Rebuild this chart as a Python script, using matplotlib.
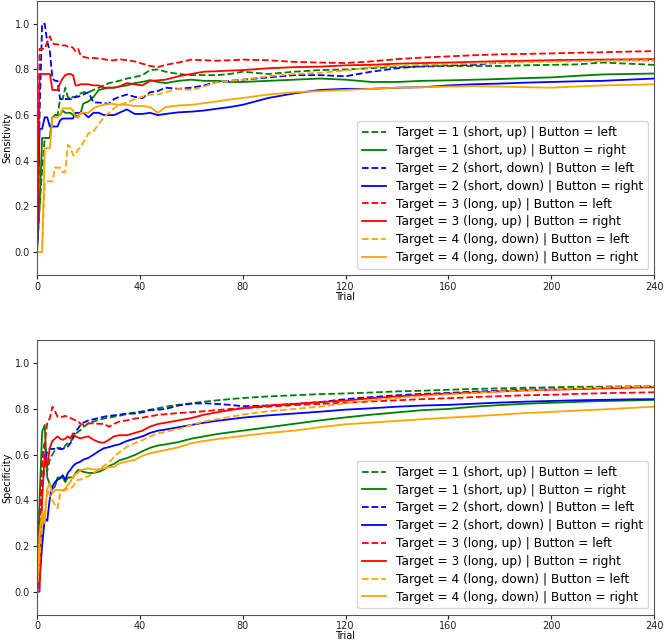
import matplotlib
matplotlib.use("Agg")
import matplotlib.pyplot as plt

trials = [0, 1, 2, 3, 4, 5, 6, 7, 8, 9, 10, 11, 12, 13, 14, 15, 16, 17, 18,
          20, 22, 24, 26, 28, 30, 32, 35, 38, 41, 44, 47, 50, 55, 60, 65, 70,
          75, 80, 90, 100, 110, 120, 130, 140, 150, 160, 170, 180, 190, 200,
          210, 220, 230, 240]

labels = ["Target = 1 (short, up) | Button = left",
          "Target = 1 (short, up) | Button = right",
          "Target = 2 (short, down) | Button = left",
          "Target = 2 (short, down) | Button = right",
          "Target = 3 (long, up) | Button = left",
          "Target = 3 (long, up) | Button = right",
          "Target = 4 (long, down) | Button = left",
          "Target = 4 (long, down) | Button = right"]
colors = ["green", "green", "blue", "blue", "red", "red", "orange", "orange"]
styles = ["--", "-", "--", "-", "--", "-", "--", "-"]

# sensitivity
sens_t1_left = [0, 0.2, 0.36, 0.5, 0.5, 0.5, 0.59, 0.6, 0.6, 0.67, 0.67, 0.72, 0.68, 0.67, 0.68, 0.68, 0.69, 0.695, 0.70,
                0.70, 0.71, 0.72, 0.73, 0.74, 0.745, 0.75, 0.76, 0.767, 0.775, 0.797, 0.80, 0.79, 0.78, 0.775, 0.775, 0.775,
                0.78, 0.79, 0.78, 0.79, 0.797, 0.80, 0.805, 0.81, 0.812, 0.815, 0.815, 0.815, 0.818, 0.82,
                0.822, 0.83, 0.825, 0.82]
sens_t1_right = [0, 0.2, 0.5, 0.5, 0.5, 0.5, 0.59, 0.6, 0.6, 0.6, 0.62, 0.61, 0.61, 0.61, 0.60, 0.60, 0.59, 0.61, 0.65,
                 0.66, 0.68, 0.71, 0.715, 0.72, 0.72, 0.725, 0.73, 0.74, 0.745, 0.753, 0.745, 0.74, 0.75, 0.755, 0.75, 0.75,
                 0.745, 0.745, 0.75, 0.755, 0.76, 0.755, 0.745, 0.745, 0.75, 0.752, 0.755, 0.758, 0.762, 0.765,
                 0.772, 0.778, 0.78, 0.782]
sens_t2_left = [0, 0.6, 1.0, 1.0, 0.92, 0.88, 0.76, 0.75, 0.75, 0.67, 0.67, 0.67, 0.67, 0.67, 0.67, 0.68, 0.68, 0.685, 0.69,
                0.70, 0.655, 0.655, 0.652, 0.65, 0.67, 0.68, 0.69, 0.68, 0.674, 0.70, 0.705, 0.72, 0.715, 0.72, 0.73, 0.745,
                0.75, 0.755, 0.765, 0.775, 0.775, 0.77, 0.79, 0.805, 0.815, 0.818, 0.82, 0.83, 0.835, 0.838,
                0.84, 0.84, 0.84, 0.84]
sens_t2_right = [0, 0.54, 0.54, 0.59, 0.59, 0.55, 0.55, 0.55, 0.55, 0.577, 0.585, 0.585, 0.585, 0.585, 0.585, 0.61, 0.61, 0.61, 0.61,
                 0.59, 0.61, 0.61, 0.60, 0.60, 0.60, 0.61, 0.625, 0.605, 0.605, 0.61, 0.60, 0.605, 0.612, 0.615, 0.62, 0.628,
                 0.635, 0.645, 0.675, 0.695, 0.71, 0.715, 0.715, 0.72, 0.722, 0.73, 0.735, 0.738, 0.742, 0.745,
                 0.748, 0.75, 0.755, 0.76]
sens_t3_left = [0, 0.89, 0.89, 0.89, 0.92, 0.945, 0.915, 0.91, 0.91, 0.905, 0.905, 0.905, 0.9, 0.9, 0.895, 0.88, 0.89, 0.86, 0.855,
                0.85, 0.85, 0.848, 0.845, 0.84, 0.84, 0.845, 0.84, 0.835, 0.825, 0.815, 0.81, 0.82, 0.83, 0.843, 0.84, 0.838,
                0.84, 0.843, 0.84, 0.833, 0.83, 0.828, 0.835, 0.845, 0.852, 0.857, 0.862, 0.866, 0.868, 0.87,
                0.873, 0.875, 0.878, 0.88]
sens_t3_right = [0, 0.78, 0.78, 0.78, 0.78, 0.78, 0.71, 0.71, 0.71, 0.74, 0.76, 0.775, 0.78, 0.78, 0.775, 0.73, 0.73, 0.735, 0.735,
                 0.735, 0.73, 0.73, 0.72, 0.72, 0.72, 0.725, 0.74, 0.735, 0.73, 0.75, 0.752, 0.755, 0.77, 0.78, 0.79, 0.792,
                 0.795, 0.797, 0.805, 0.81, 0.812, 0.818, 0.82, 0.825, 0.828, 0.83, 0.833, 0.836, 0.838, 0.84,
                 0.842, 0.843, 0.844, 0.845]
sens_t4_left = [0, 0, 0, 0.30, 0.31, 0.31, 0.31, 0.37, 0.37, 0.37, 0.35, 0.35, 0.47, 0.46, 0.425, 0.425, 0.45, 0.46, 0.48,
                0.52, 0.53, 0.56, 0.59, 0.61, 0.63, 0.645, 0.655, 0.67, 0.68, 0.69, 0.69, 0.70, 0.715, 0.71, 0.725, 0.745,
                0.75, 0.755, 0.77, 0.78, 0.785, 0.795, 0.81, 0.818, 0.82, 0.822, 0.826, 0.828, 0.832, 0.834,
                0.836, 0.838, 0.84, 0.84]
sens_t4_right = [0, 0, 0, 0.455, 0.455, 0.455, 0.59, 0.59, 0.59, 0.60, 0.63, 0.63, 0.63, 0.63, 0.62, 0.59, 0.59, 0.61, 0.61,
                 0.61, 0.63, 0.64, 0.645, 0.65, 0.648, 0.645, 0.645, 0.64, 0.64, 0.635, 0.61, 0.635, 0.642, 0.645, 0.652, 0.66,
                 0.668, 0.675, 0.69, 0.70, 0.705, 0.71, 0.715, 0.72, 0.722, 0.725, 0.727, 0.725, 0.722, 0.72,
                 0.725, 0.73, 0.732, 0.735]

# specificity
spec_t1_left = [0, 0.35, 0.6, 0.65, 0.53, 0.58, 0.6, 0.62, 0.63, 0.63, 0.62, 0.64, 0.65, 0.657, 0.67, 0.69, 0.70, 0.708, 0.72,
                0.737, 0.745, 0.752, 0.758, 0.762, 0.766, 0.77, 0.778, 0.785, 0.79, 0.797, 0.803, 0.81, 0.818, 0.825, 0.832, 0.838,
                0.843, 0.848, 0.855, 0.86, 0.865, 0.868, 0.872, 0.877, 0.88, 0.884, 0.888, 0.89, 0.893, 0.895,
                0.897, 0.898, 0.899, 0.90]
spec_t1_right = [0, 0.4, 0.70, 0.73, 0.5, 0.47, 0.45, 0.46, 0.5, 0.5, 0.5, 0.48, 0.5, 0.5, 0.5, 0.52, 0.533, 0.53, 0.525,
                 0.52, 0.52, 0.525, 0.535, 0.55, 0.56, 0.575, 0.585, 0.598, 0.615, 0.63, 0.64, 0.645, 0.655, 0.67, 0.68, 0.69,
                 0.698, 0.705, 0.72, 0.735, 0.75, 0.763, 0.775, 0.785, 0.795, 0.80, 0.81, 0.817, 0.823, 0.827,
                 0.831, 0.835, 0.837, 0.84]
spec_t2_left = [0, 0.2, 0.45, 0.55, 0.62, 0.625, 0.625, 0.625, 0.625, 0.625, 0.625, 0.63, 0.636, 0.65, 0.68, 0.70, 0.715, 0.73, 0.74,
                0.75, 0.755, 0.76, 0.766, 0.77, 0.772, 0.775, 0.78, 0.78, 0.785, 0.795, 0.797, 0.80, 0.815, 0.823, 0.825, 0.822,
                0.818, 0.812, 0.815, 0.822, 0.83, 0.843, 0.852, 0.86, 0.866, 0.87, 0.876, 0.88, 0.885, 0.887,
                0.89, 0.893, 0.895, 0.897]
spec_t2_right = [0, 0.05, 0.2, 0.32, 0.31, 0.41, 0.46, 0.48, 0.49, 0.496, 0.51, 0.49, 0.52, 0.533, 0.55, 0.56, 0.565, 0.57, 0.578,
                 0.586, 0.60, 0.615, 0.628, 0.633, 0.64, 0.645, 0.66, 0.67, 0.68, 0.695, 0.705, 0.71, 0.72, 0.73, 0.74, 0.748,
                 0.755, 0.762, 0.772, 0.78, 0.788, 0.797, 0.803, 0.81, 0.815, 0.818, 0.823, 0.828, 0.832, 0.835,
                 0.838, 0.84, 0.842, 0.843]
spec_t3_left = [0, 0.3, 0.55, 0.65, 0.74, 0.76, 0.81, 0.79, 0.766, 0.766, 0.766, 0.77, 0.765, 0.76, 0.755, 0.75, 0.745, 0.735, 0.73,
                0.737, 0.737, 0.735, 0.735, 0.722, 0.735, 0.745, 0.75, 0.758, 0.762, 0.768, 0.774, 0.777, 0.782, 0.786, 0.79, 0.795,
                0.80, 0.803, 0.81, 0.817, 0.822, 0.828, 0.833, 0.838, 0.843, 0.847, 0.852, 0.856, 0.86, 0.862,
                0.866, 0.869, 0.871, 0.873]
spec_t3_right = [0, 0.0, 0.4, 0.6, 0.55, 0.63, 0.66, 0.67, 0.68, 0.67, 0.665, 0.67, 0.68, 0.67, 0.693, 0.68, 0.675, 0.671, 0.675,
                 0.68, 0.665, 0.655, 0.652, 0.665, 0.68, 0.685, 0.685, 0.695, 0.705, 0.723, 0.734, 0.74, 0.75, 0.76, 0.775, 0.785,
                 0.795, 0.803, 0.815, 0.822, 0.83, 0.837, 0.847, 0.855, 0.862, 0.867, 0.872, 0.877, 0.881, 0.884,
                 0.887, 0.89, 0.893, 0.895]
spec_t4_left = [0, 0.15, 0.3, 0.35, 0.45, 0.42, 0.40, 0.38, 0.365, 0.43, 0.44, 0.445, 0.45, 0.45, 0.46, 0.48, 0.49, 0.49, 0.50,
                0.505, 0.52, 0.535, 0.55, 0.565, 0.59, 0.61, 0.635, 0.65, 0.664, 0.68, 0.693, 0.70, 0.712, 0.73, 0.745, 0.755,
                0.765, 0.775, 0.79, 0.80, 0.81, 0.825, 0.838, 0.848, 0.857, 0.864, 0.87, 0.876, 0.882, 0.886,
                0.89, 0.894, 0.897, 0.90]
spec_t4_right = [0, 0.25, 0.35, 0.30, 0.45, 0.474, 0.43, 0.445, 0.445, 0.445, 0.445, 0.45, 0.467, 0.48, 0.504, 0.515, 0.52, 0.533, 0.535,
                 0.54, 0.535, 0.535, 0.54, 0.545, 0.547, 0.562, 0.57, 0.577, 0.595, 0.606, 0.613, 0.62, 0.632, 0.65, 0.66, 0.668,
                 0.675, 0.682, 0.695, 0.705, 0.72, 0.733, 0.74, 0.748, 0.755, 0.762, 0.768, 0.775, 0.782, 0.787,
                 0.793, 0.798, 0.804, 0.81]

sensitivity = [sens_t1_left, sens_t1_right, sens_t2_left, sens_t2_right,
               sens_t3_left, sens_t3_right, sens_t4_left, sens_t4_right]
specificity = [spec_t1_left, spec_t1_right, spec_t2_left, spec_t2_right,
               spec_t3_left, spec_t3_right, spec_t4_left, spec_t4_right]

fig, axes = plt.subplots(2, 1, figsize=(6.64, 6.43), dpi=100)
fig.subplots_adjust(left=0.0557, right=0.985, top=0.9986, bottom=0.0443, hspace=0.239)

for ax, data, name in zip(axes, [sensitivity, specificity], ["Sensitivity", "Specificity"]):
    for y, c, ls, lab in zip(data, colors, styles, labels):
        ax.plot(trials, y, color=c, linestyle=ls, linewidth=1.3, label=lab)
    ax.set_xlim(0, 240)
    ax.set_ylim(-0.1, 1.1)
    ax.set_xticks(range(0, 241, 40))
    ax.set_yticks([0.0, 0.2, 0.4, 0.6, 0.8, 1.0])
    ax.set_xlabel("Trial", fontsize=7, labelpad=0)
    ax.set_ylabel(name, fontsize=7, labelpad=2)
    ax.tick_params(labelsize=7, colors="#222222", length=3, pad=2)
    for sp in ax.spines.values():
        sp.set_color("#555555")
    ax.legend(loc="lower right", fontsize=8.7, labelspacing=0.4)

fig.savefig("out.png", dpi=100)
plt.close(fig)
